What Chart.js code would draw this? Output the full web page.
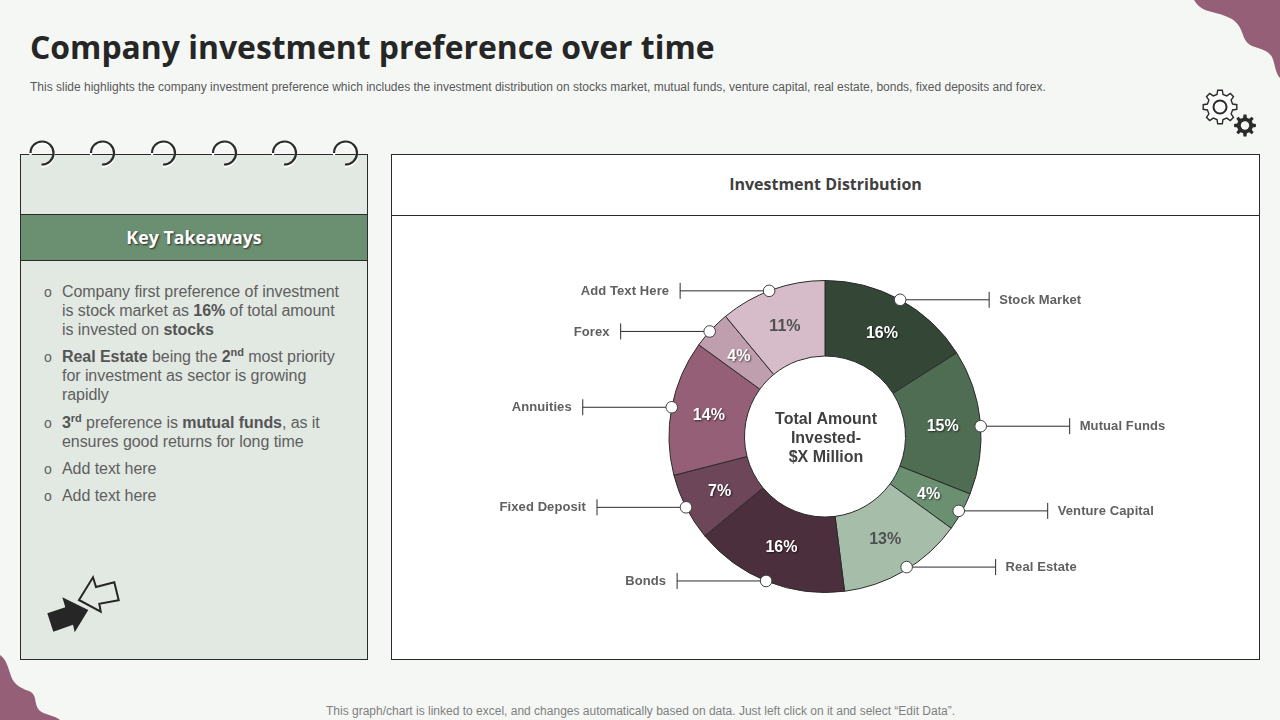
<!DOCTYPE html>
<html>
<head>
<meta charset="utf-8">
<title>Company investment preference over time</title>
<script src="https://cdn.jsdelivr.net/npm/chart.js@4"></script>
<style>
  html, body { margin: 0; padding: 0; }
  body { width: 1280px; height: 720px; position: relative; overflow: hidden; background: #f5f7f5; font-family: "Liberation Sans", Arial, sans-serif; }
  .abs { position: absolute; }
  h1 { position: absolute; left: 30px; top: 25px; margin: 0; font: 700 31.9px/44px "Open Sans", sans-serif; color: #262626; white-space: nowrap; }
  .sub { position: absolute; left: 30px; top: 80px; font-size: 12px; line-height: 14px; color: #595959; white-space: nowrap; }
  .foot { position: absolute; left: 326px; top: 704px; font-size: 12px; line-height: 14px; color: #7f7f7f; white-space: nowrap; }
  .left-panel { position: absolute; left: 20px; top: 154px; width: 346px; height: 504px; background: #e2e8e2; border: 1px solid #2b2b2b; }
  .band { position: absolute; left: 20px; top: 214px; width: 346px; height: 45px; background: #6b8f71; border: 1px solid #2b2b2b; text-align: center; color: #fff; font: 700 17.8px/45px "Open Sans", sans-serif; text-shadow: 1px 1px 2px #2b2b2b; }
  .right-panel { position: absolute; left: 391px; top: 154px; width: 867px; height: 504px; background: #fff; border: 1px solid #2b2b2b; }
  .right-head { position: absolute; left: 391px; top: 154px; width: 869px; height: 61px; border-bottom: 1px solid #2b2b2b; text-align: center; font: 700 16px/60px "Open Sans", sans-serif; color: #404040; }
  .item { position: absolute; left: 62px; width: 300px; font-size: 16px; line-height: 19.2px; color: #5f5f5f; letter-spacing: -0.06px; white-space: nowrap; }
  .item::before { content: "o"; position: absolute; left: -18px; top: 1px; font-size: 14px; }
  .item b { color: #555; }
  sup { font-size: 11px; line-height: 0; }
  #chartBox { position: absolute; left: 392px; top: 216px; width: 866px; height: 441px; }
</style>
</head>
<body>
<svg class="abs" style="left:0;top:0" width="1280" height="720">
  <path d="M1194,0 C1199,8 1204,10 1212,12 C1224,15 1234,18 1239,26 C1244,34 1243,42 1252,46 C1260,49 1268,50 1272,57 C1275,63 1275,73 1280,78 L1280,0 Z" fill="#955f77"/>
  <path d="M0,655 C7,660 8,668 11,676 C14,686 24,689 31,692 C37,696 34,704 39,710 C44,715 54,715 60,720 L0,720 Z" fill="#955f77"/>
</svg>
<h1>Company investment preference over time</h1>
<div class="sub">This slide highlights the company investment preference which includes the investment distribution on stocks market, mutual funds, venture capital, real estate, bonds, fixed deposits and forex.</div>

<svg class="abs" style="left:1195px;top:85px" width="65" height="60">
  <path id="gearBig" fill="#fbfbfb" stroke="#2b2b2b" stroke-width="1.4"/>
  <circle cx="25" cy="22" r="6.5" fill="none" stroke="#2b2b2b" stroke-width="2"/>
  <path id="gearSmall" fill="#2b2b2b"/>
  <circle cx="50" cy="40.5" r="4.2" fill="#f5f7f5"/>
</svg>

<div class="left-panel"></div>
<div class="band">Key Takeaways</div>
<svg class="abs" style="left:20px;top:135px;filter:drop-shadow(0 2px 0 #fff)" width="348" height="40" fill="none" stroke="#2b2b2b" stroke-width="2.2">
  <path d="M10.5,18 A11.5,11.5 0 1 1 21.5,29.5"/>
  <path d="M71,18 A11.5,11.5 0 1 1 82,29.5"/>
  <path d="M132,18 A11.5,11.5 0 1 1 143,29.5"/>
  <path d="M193,18 A11.5,11.5 0 1 1 204,29.5"/>
  <path d="M253,18 A11.5,11.5 0 1 1 264,29.5"/>
  <path d="M314,18 A11.5,11.5 0 1 1 325,29.5"/>
</svg>

<div class="item" style="top:282px">Company first preference of investment<br>is stock market as <b>16%</b> of total amount<br>is invested on <b>stocks</b></div>
<div class="item" style="top:347px"><b>Real Estate</b> being the <b>2<sup>nd</sup></b> most priority<br>for investment as sector is growing<br>rapidly</div>
<div class="item" style="top:413px"><b>3<sup>rd</sup></b> preference is <b>mutual funds</b>, as it<br>ensures good returns for long time</div>
<div class="item" style="top:459px">Add text here</div>
<div class="item" style="top:486px">Add text here</div>

<svg class="abs" style="left:40px;top:570px" width="90" height="70">
  <polygon points="7.3,43.3 13.3,61.7 33,54.7 34.7,62.3 48.3,40 22.3,27.3 25.3,37.3" fill="#262626"/>
  <polygon points="39,30 53,7.3 56,17 74.3,12.3 78.7,30.3 59.3,33.7 60.7,41.7" fill="none" stroke="#262626" stroke-width="2"/>
</svg>

<div class="right-panel"></div>
<div class="right-head">Investment Distribution</div>
<div id="chartBox"><canvas id="donutChart"></canvas></div>

<div class="foot">This graph/chart is linked to excel, and changes automatically based on data. Just left click on it and select “Edit Data”.</div>

<script>
const categories = ["Stock Market", "Mutual Funds", "Venture Capital", "Real Estate", "Bonds", "Fixed Deposit", "Annuities", "Forex", "Add Text Here"];
const shares = [16, 15, 4, 13, 16, 7, 14, 4, 11];
const sliceColors = ["#344736", "#4f6d53", "#6b8f71", "#a6bda9", "#4c2f3c", "#6d4759", "#955f77", "#bf9ead", "#d5bcc8"];
const shareTextColors = ["#fff", "#fff", "#fff", "#505050", "#fff", "#fff", "#fff", "#fff", "#505050"];
const centerLines = ["Total Amount", "Invested-", "$X Million"];

// where each leader leaves its slice: fraction along the arc, and pixels in from the edge
const leaderAlong = [0.5, 0.53, 0.52, 0.47, 0.51, 0.5, 0.5, 0.44, 0.47];
const leaderInset = [0, 0, 3, 2, 0, 0, 0, 0, 0];

const LEADER_LENGTH = 89;
const FONT = '"Liberation Sans", Arial, sans-serif';

// builds the outline of a cog for the two small icons
function gearPath(cx, cy, rOut, rIn, teeth) {
  let d = "";
  const step = Math.PI * 2 / teeth;
  for (let i = 0; i < teeth; i++) {
    const a = i * step;
    const pts = [[rIn, a - step * 0.3], [rOut, a - step * 0.17], [rOut, a + step * 0.17], [rIn, a + step * 0.3]];
    pts.forEach((p, j) => {
      const x = (cx + p[0] * Math.cos(p[1])).toFixed(1);
      const y = (cy + p[0] * Math.sin(p[1])).toFixed(1);
      d += (i === 0 && j === 0 ? "M" : "L") + x + "," + y + " ";
    });
  }
  return d + "Z";
}
document.getElementById("gearBig").setAttribute("d", gearPath(25, 22, 17, 13, 8));
document.getElementById("gearSmall").setAttribute("d", gearPath(50, 40.5, 11, 8, 8));

// percent labels, leader lines and the text in the hole
const donutLabels = {
  id: "donutLabels",
  afterDraw(chart) {
    const ctx = chart.ctx;
    const arcs = chart.getDatasetMeta(0).data;

    ctx.save();
    arcs.forEach((arc, i) => {
      const mid = (arc.startAngle + arc.endAngle) / 2;
      const labelR = (arc.innerRadius + arc.outerRadius) / 2;

      // share text
      ctx.save();
      if (shareTextColors[i] === "#fff") {
        ctx.shadowColor = "rgba(0,0,0,0.6)";
        ctx.shadowBlur = 2;
        ctx.shadowOffsetX = 1;
        ctx.shadowOffsetY = 1;
      }
      ctx.fillStyle = shareTextColors[i];
      ctx.font = "bold 16px " + FONT;
      ctx.textAlign = "center";
      ctx.textBaseline = "middle";
      ctx.fillText(shares[i] + "%", arc.x + labelR * Math.cos(mid), arc.y + labelR * Math.sin(mid) + 1);
      ctx.restore();

      // leader from the ring edge out to a small end tick
      const angle = arc.startAngle + (arc.endAngle - arc.startAngle) * leaderAlong[i];
      const right = Math.cos(angle) >= 0;
      const dotR = arc.outerRadius - leaderInset[i];
      const dotX = arc.x + dotR * Math.cos(angle);
      const dotY = arc.y + dotR * Math.sin(angle);
      const endX = dotX + (right ? LEADER_LENGTH : -LEADER_LENGTH);
      ctx.strokeStyle = "#2b2b2b";
      ctx.lineWidth = 1;
      ctx.beginPath();
      ctx.moveTo(dotX, dotY);
      ctx.lineTo(endX, dotY);
      ctx.moveTo(endX, dotY - 8);
      ctx.lineTo(endX, dotY + 8);
      ctx.stroke();

      ctx.beginPath();
      ctx.arc(dotX, dotY, 5.8, 0, Math.PI * 2);
      ctx.fillStyle = "#fff";
      ctx.fill();
      ctx.strokeStyle = "#404040";
      ctx.stroke();

      // category name
      ctx.fillStyle = "#606060";
      ctx.font = "bold 13px " + FONT;
      ctx.letterSpacing = "0.1px";
      ctx.textAlign = right ? "left" : "right";
      ctx.textBaseline = "middle";
      ctx.fillText(categories[i], endX + (right ? 10 : -11), dotY + 0.5);
      ctx.letterSpacing = "0px";
    });

    ctx.fillStyle = "#404040";
    ctx.font = "bold 16px " + FONT;
    ctx.textAlign = "center";
    ctx.textBaseline = "middle";
    centerLines.forEach((line, i) => {
      ctx.fillText(line, arcs[0].x + 1, arcs[0].y + 2 + (i - 1) * 19);
    });
    ctx.restore();
  }
};

new Chart(document.getElementById("donutChart"), {
  type: "doughnut",
  data: {
    labels: categories,
    datasets: [{
      data: shares,
      backgroundColor: sliceColors,
      borderColor: "#2b2b2b",
      borderWidth: 1
    }]
  },
  options: {
    responsive: true,
    maintainAspectRatio: false,
    animation: false,
    cutout: "51.6%",
    layout: { padding: 64 },
    plugins: {
      legend: { display: false },
      tooltip: { enabled: false }
    }
  },
  plugins: [donutLabels]
});
</script>
</body>
</html>
